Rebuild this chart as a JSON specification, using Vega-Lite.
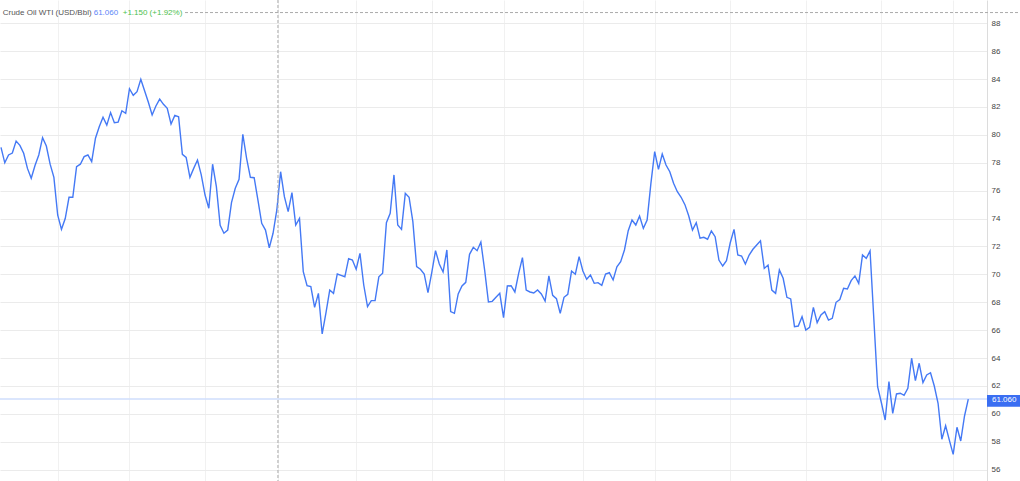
{
  "$schema": "https://vega.github.io/schema/vega-lite/v6.json",
  "autosize": {"type": "none"},
  "padding": {"left": 0, "top": 0, "right": 33, "bottom": 0},
  "width": 987,
  "height": 481,
  "background": "white",
  "layer": [
    {
      "data": {"values": [{"last": 61.06}]},
      "mark": {"type": "rule", "color": "#cfdefc", "strokeWidth": 1.5},
      "encoding": {
        "y": {
          "field": "last",
          "type": "quantitative",
          "scale": {"domain": [55.19, 89.67], "nice": false, "zero": false},
          "axis": {
            "orient": "right",
            "values": [56, 58, 60, 62, 64, 66, 68, 70, 72, 74, 76, 78, 80, 82, 84, 86, 88],
            "tickCount": 20,
            "title": null,
            "ticks": false,
            "domain": true,
            "domainColor": "#dcdcdc",
            "grid": true,
            "gridColor": "#ebebeb",
            "labelFont": "Liberation Sans",
            "labelFontSize": 8,
            "labelColor": "#444444",
            "labelPadding": 4,
            "labelOverlap": false,
            "labelBound": false
          }
        }
      }
    },
    {
      "data": {
        "values": [
          {"i": 0, "price": 79.11}, {"i": 1, "price": 78.0}, {"i": 2, "price": 78.56}, {"i": 3, "price": 78.7},
          {"i": 4, "price": 79.56}, {"i": 5, "price": 79.25}, {"i": 6, "price": 78.68}, {"i": 7, "price": 77.6},
          {"i": 8, "price": 76.89}, {"i": 9, "price": 77.8}, {"i": 10, "price": 78.56}, {"i": 11, "price": 79.8},
          {"i": 12, "price": 79.2}, {"i": 13, "price": 77.9}, {"i": 14, "price": 76.96}, {"i": 15, "price": 74.26},
          {"i": 16, "price": 73.23}, {"i": 17, "price": 74.0}, {"i": 18, "price": 75.53}, {"i": 19, "price": 75.53},
          {"i": 20, "price": 77.72}, {"i": 21, "price": 77.9}, {"i": 22, "price": 78.44}, {"i": 23, "price": 78.56},
          {"i": 24, "price": 78.08}, {"i": 25, "price": 79.76}, {"i": 26, "price": 80.59}, {"i": 27, "price": 81.26},
          {"i": 28, "price": 80.7}, {"i": 29, "price": 81.6}, {"i": 30, "price": 80.87}, {"i": 31, "price": 80.92},
          {"i": 32, "price": 81.73}, {"i": 33, "price": 81.55}, {"i": 34, "price": 83.31}, {"i": 35, "price": 82.84},
          {"i": 36, "price": 83.1}, {"i": 37, "price": 83.99}, {"i": 38, "price": 83.17}, {"i": 39, "price": 82.34},
          {"i": 40, "price": 81.43}, {"i": 41, "price": 82.07}, {"i": 42, "price": 82.57}, {"i": 43, "price": 82.19},
          {"i": 44, "price": 81.9}, {"i": 45, "price": 80.78}, {"i": 46, "price": 81.4}, {"i": 47, "price": 81.3},
          {"i": 48, "price": 78.61}, {"i": 49, "price": 78.39}, {"i": 50, "price": 76.96}, {"i": 51, "price": 77.6},
          {"i": 52, "price": 78.2}, {"i": 53, "price": 77.13}, {"i": 54, "price": 75.69}, {"i": 55, "price": 74.74},
          {"i": 56, "price": 77.9}, {"i": 57, "price": 76.29}, {"i": 58, "price": 73.52}, {"i": 59, "price": 72.95},
          {"i": 60, "price": 73.18}, {"i": 61, "price": 75.14}, {"i": 62, "price": 76.17}, {"i": 63, "price": 76.82},
          {"i": 64, "price": 80.04}, {"i": 65, "price": 78.32}, {"i": 66, "price": 76.96}, {"i": 67, "price": 76.93},
          {"i": 68, "price": 75.33}, {"i": 69, "price": 73.66}, {"i": 70, "price": 73.18}, {"i": 71, "price": 71.91},
          {"i": 72, "price": 72.95}, {"i": 73, "price": 74.62}, {"i": 74, "price": 77.36}, {"i": 75, "price": 75.57},
          {"i": 76, "price": 74.5}, {"i": 77, "price": 75.86}, {"i": 78, "price": 73.54}, {"i": 79, "price": 74.02},
          {"i": 80, "price": 70.19}, {"i": 81, "price": 69.19}, {"i": 82, "price": 69.12}, {"i": 83, "price": 67.64},
          {"i": 84, "price": 68.64}, {"i": 85, "price": 65.73}, {"i": 86, "price": 67.25}, {"i": 87, "price": 68.88},
          {"i": 88, "price": 68.64}, {"i": 89, "price": 70.03}, {"i": 90, "price": 69.93}, {"i": 91, "price": 69.83},
          {"i": 92, "price": 71.13}, {"i": 93, "price": 71.03}, {"i": 94, "price": 70.37}, {"i": 95, "price": 71.51},
          {"i": 96, "price": 69.24}, {"i": 97, "price": 67.69}, {"i": 98, "price": 68.12}, {"i": 99, "price": 68.12},
          {"i": 100, "price": 69.83}, {"i": 101, "price": 70.08}, {"i": 102, "price": 73.71}, {"i": 103, "price": 74.38},
          {"i": 104, "price": 77.13}, {"i": 105, "price": 73.54}, {"i": 106, "price": 73.23}, {"i": 107, "price": 75.81},
          {"i": 108, "price": 75.53}, {"i": 109, "price": 73.78}, {"i": 110, "price": 70.56}, {"i": 111, "price": 70.37},
          {"i": 112, "price": 70.03}, {"i": 113, "price": 68.69}, {"i": 114, "price": 70.13}, {"i": 115, "price": 71.7},
          {"i": 116, "price": 70.75}, {"i": 117, "price": 70.17}, {"i": 118, "price": 71.75}, {"i": 119, "price": 67.33},
          {"i": 120, "price": 67.21}, {"i": 121, "price": 68.6}, {"i": 122, "price": 69.17}, {"i": 123, "price": 69.43},
          {"i": 124, "price": 71.44}, {"i": 125, "price": 71.94}, {"i": 126, "price": 71.7}, {"i": 127, "price": 72.32},
          {"i": 128, "price": 70.31}, {"i": 129, "price": 68.02}, {"i": 130, "price": 68.07}, {"i": 131, "price": 68.36},
          {"i": 132, "price": 68.64}, {"i": 133, "price": 66.9}, {"i": 134, "price": 69.17}, {"i": 135, "price": 69.19},
          {"i": 136, "price": 68.74}, {"i": 137, "price": 70.08}, {"i": 138, "price": 71.2}, {"i": 139, "price": 68.88},
          {"i": 140, "price": 68.74}, {"i": 141, "price": 68.67}, {"i": 142, "price": 68.88}, {"i": 143, "price": 68.6},
          {"i": 144, "price": 68.09}, {"i": 145, "price": 69.89}, {"i": 146, "price": 68.5}, {"i": 147, "price": 68.26},
          {"i": 148, "price": 67.21}, {"i": 149, "price": 68.36}, {"i": 150, "price": 68.57}, {"i": 151, "price": 70.24},
          {"i": 152, "price": 70.01}, {"i": 153, "price": 71.27}, {"i": 154, "price": 70.24}, {"i": 155, "price": 69.65},
          {"i": 156, "price": 69.96}, {"i": 157, "price": 69.36}, {"i": 158, "price": 69.41}, {"i": 159, "price": 69.22},
          {"i": 160, "price": 70.03}, {"i": 161, "price": 70.12}, {"i": 162, "price": 69.6}, {"i": 163, "price": 70.55},
          {"i": 164, "price": 70.91}, {"i": 165, "price": 71.75}, {"i": 166, "price": 73.13}, {"i": 167, "price": 73.9},
          {"i": 168, "price": 73.54}, {"i": 169, "price": 74.19}, {"i": 170, "price": 73.3}, {"i": 171, "price": 73.9},
          {"i": 172, "price": 76.53}, {"i": 173, "price": 78.8}, {"i": 174, "price": 77.53}, {"i": 175, "price": 78.63},
          {"i": 176, "price": 77.84}, {"i": 177, "price": 77.36}, {"i": 178, "price": 76.53}, {"i": 179, "price": 75.93},
          {"i": 180, "price": 75.53}, {"i": 181, "price": 75.0}, {"i": 182, "price": 74.2}, {"i": 183, "price": 73.18},
          {"i": 184, "price": 73.71}, {"i": 185, "price": 72.59}, {"i": 186, "price": 72.66}, {"i": 187, "price": 72.52},
          {"i": 188, "price": 73.11}, {"i": 189, "price": 72.7}, {"i": 190, "price": 71.03}, {"i": 191, "price": 70.6},
          {"i": 192, "price": 70.98}, {"i": 193, "price": 72.27}, {"i": 194, "price": 73.23}, {"i": 195, "price": 71.39},
          {"i": 196, "price": 71.32}, {"i": 197, "price": 70.75}, {"i": 198, "price": 71.39}, {"i": 199, "price": 71.8},
          {"i": 200, "price": 72.11}, {"i": 201, "price": 72.41}, {"i": 202, "price": 70.43}, {"i": 203, "price": 70.67},
          {"i": 204, "price": 68.88}, {"i": 205, "price": 68.64}, {"i": 206, "price": 70.32}, {"i": 207, "price": 69.72},
          {"i": 208, "price": 68.36}, {"i": 209, "price": 68.24}, {"i": 210, "price": 66.25}, {"i": 211, "price": 66.3},
          {"i": 212, "price": 66.97}, {"i": 213, "price": 66.01}, {"i": 214, "price": 66.21}, {"i": 215, "price": 67.64},
          {"i": 216, "price": 66.54}, {"i": 217, "price": 67.09}, {"i": 218, "price": 67.33}, {"i": 219, "price": 66.73},
          {"i": 220, "price": 66.85}, {"i": 221, "price": 68.0}, {"i": 222, "price": 68.2}, {"i": 223, "price": 69.0},
          {"i": 224, "price": 68.95}, {"i": 225, "price": 69.55}, {"i": 226, "price": 69.89}, {"i": 227, "price": 69.36},
          {"i": 228, "price": 71.39}, {"i": 229, "price": 71.15}, {"i": 230, "price": 71.68}, {"i": 231, "price": 66.8},
          {"i": 232, "price": 61.95}, {"i": 233, "price": 60.8}, {"i": 234, "price": 59.56}, {"i": 235, "price": 62.31},
          {"i": 236, "price": 60.04}, {"i": 237, "price": 61.43}, {"i": 238, "price": 61.48}, {"i": 239, "price": 61.33},
          {"i": 240, "price": 61.84}, {"i": 241, "price": 63.99}, {"i": 242, "price": 62.38}, {"i": 243, "price": 63.63},
          {"i": 244, "price": 62.24}, {"i": 245, "price": 62.79}, {"i": 246, "price": 62.95}, {"i": 247, "price": 62.0},
          {"i": 248, "price": 60.76}, {"i": 249, "price": 58.18}, {"i": 250, "price": 59.15}, {"i": 251, "price": 58.1},
          {"i": 252, "price": 57.1}, {"i": 253, "price": 59.04}, {"i": 254, "price": 58.06}, {"i": 255, "price": 59.85},
          {"i": 256, "price": 61.06}
        ]
      },
      "mark": {"type": "line", "color": "#4479f5", "strokeWidth": 1.4, "strokeJoin": "miter"},
      "encoding": {
        "x": {
          "field": "i",
          "type": "quantitative",
          "scale": {"domain": [-0.265, 260.95], "nice": false, "zero": false},
          "axis": {
            "values": [15, 34, 54, 73.3, 94, 114, 133, 154, 173, 193, 213, 233, 252],
            "tickCount": 30,
            "labels": false,
            "ticks": false,
            "domain": false,
            "title": null,
            "grid": true,
            "gridColor": "#f1f1f1",
            "gridWidth": 1
          }
        },
        "y": {
          "field": "price",
          "type": "quantitative",
          "scale": {"domain": [55.19, 89.67], "nice": false, "zero": false},
          "axis": {
            "orient": "right",
            "values": [56, 58, 60, 62, 64, 66, 68, 70, 72, 74, 76, 78, 80, 82, 84, 86, 88],
            "tickCount": 20,
            "title": null,
            "ticks": false,
            "domain": true,
            "domainColor": "#dcdcdc",
            "grid": true,
            "gridColor": "#ebebeb",
            "labelFont": "Liberation Sans",
            "labelFontSize": 8,
            "labelColor": "#444444",
            "labelPadding": 4,
            "labelOverlap": false,
            "labelBound": false
          }
        }
      }
    },
    {
      "data": {"values": [{"cross": "vertical"}]},
      "mark": {"type": "rule", "color": "#aaaaaa", "strokeDash": [3, 2], "strokeWidth": 1},
      "encoding": {"x": {"datum": 73.3, "type": "quantitative"}}
    },
    {
      "data": {"values": [{"cross": "horizontal"}]},
      "mark": {"type": "rule", "color": "#aaaaaa", "strokeDash": [3, 2], "strokeWidth": 1},
      "encoding": {
        "x": {"datum": 48.7, "type": "quantitative"},
        "x2": {"datum": 270},
        "y": {"datum": 88.77, "type": "quantitative"}
      }
    },
    {
      "data": {"values": [{"last": 61.06}]},
      "mark": {"type": "rect", "color": "#3a6ef2"},
      "encoding": {
        "x": {"datum": 260.95, "type": "quantitative"},
        "x2": {"datum": 270},
        "y": {"datum": 61.35, "type": "quantitative"},
        "y2": {"datum": 60.52}
      }
    },
    {
      "data": {"values": [{"label": "61.060"}]},
      "mark": {"type": "text", "align": "left", "baseline": "middle", "font": "Liberation Sans", "fontSize": 8, "color": "white"},
      "encoding": {
        "x": {"datum": 262.27, "type": "quantitative"},
        "y": {"datum": 60.98, "type": "quantitative"},
        "text": {"field": "label"}
      }
    },
    {
      "data": {"values": [{"label": "Crude Oil WTI (USD/Bbl)"}]},
      "mark": {"type": "text", "align": "left", "baseline": "middle", "font": "Liberation Sans", "fontSize": 8, "color": "#555555"},
      "encoding": {
        "x": {"datum": 0.45, "type": "quantitative"},
        "y": {"datum": 88.72, "type": "quantitative"},
        "text": {"field": "label"}
      }
    },
    {
      "data": {"values": [{"label": "61.060"}]},
      "mark": {"type": "text", "align": "left", "baseline": "middle", "font": "Liberation Sans", "fontSize": 8, "color": "#5b86f7"},
      "encoding": {
        "x": {"datum": 24.53, "type": "quantitative"},
        "y": {"datum": 88.72, "type": "quantitative"},
        "text": {"field": "label"}
      }
    },
    {
      "data": {"values": [{"label": "+1.150 (+1.92%)"}]},
      "mark": {"type": "text", "align": "left", "baseline": "middle", "font": "Liberation Sans", "fontSize": 8, "color": "#4dc04d"},
      "encoding": {
        "x": {"datum": 32.21, "type": "quantitative"},
        "y": {"datum": 88.72, "type": "quantitative"},
        "text": {"field": "label"}
      }
    }
  ],
  "config": {
    "view": {"stroke": null}
  }
}
